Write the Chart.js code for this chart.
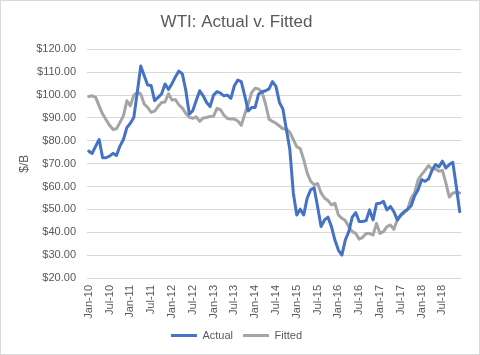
<!DOCTYPE html>
<html><head><meta charset="utf-8">
<script src="https://cdn.jsdelivr.net/npm/chart.js@4"></script>
<style>html,body{margin:0;padding:0;background:#fff;}</style>
</head><body>
<canvas id="c" width="480" height="355"></canvas>
<script>
const monthNames = ['Jan','Feb','Mar','Apr','May','Jun','Jul','Aug','Sep','Oct','Nov','Dec'];
const years = ['10','11','12','13','14','15','16','17','18'];
const categories = [];
years.forEach(y => monthNames.forEach(m => categories.push(m + '-' + y)));

const actual = [
  75.5,74.5,77.7,80.6,72.6,72.6,73.3,74.5,73.6,77.7,80.6,85.8,
  87.7,90.2,101.2,112.7,108.5,104.4,104.2,97.6,99.0,100.5,104.9,102.5,
  105.0,108.0,110.5,109.3,102.0,91.7,93.2,97.6,101.9,99.7,96.8,95.0,
  100.0,101.5,100.9,99.7,100.0,98.6,104.1,106.6,105.9,99.7,93.1,94.6,
  94.6,100.5,101.5,101.9,102.7,105.9,103.8,96.8,93.9,85.0,76.2,57.2,
  47.6,50.1,47.6,54.9,58.6,59.4,51.3,42.5,45.4,46.6,42.5,36.6,
  32.2,30.0,36.6,40.3,46.6,48.6,44.7,44.7,45.1,49.8,45.4,52.5,
  52.7,53.5,49.8,51.3,49.0,45.4,47.6,49.0,50.1,51.6,56.0,58.6,
  63.0,62.3,63.3,67.1,69.6,68.6,71.1,68.1,69.6,70.6,60.1,49.0
];
const fitted = [
  99.4,99.7,99.0,95.3,91.7,89.2,86.8,85.0,85.3,88.0,90.9,97.5,
  95.3,100.0,101.2,100.5,96.1,94.6,92.5,93.0,95.0,96.8,97.0,100.6,
  97.8,98.1,95.7,94.3,92.0,90.3,89.8,90.5,88.5,90.0,90.2,90.7,
  90.8,94.2,93.6,91.2,89.8,89.5,89.5,88.7,86.8,91.7,96.1,101.2,
  103.0,102.7,101.2,96.1,89.5,88.5,87.7,86.5,85.3,85.3,83.7,80.6,
  77.4,76.6,71.8,66.0,62.3,60.8,61.3,57.2,55.0,53.9,52.0,52.7,
  47.6,46.1,45.1,42.5,40.3,39.5,37.0,37.8,39.5,39.5,38.8,43.9,
  39.5,40.3,42.5,43.2,41.3,45.4,47.2,48.6,50.1,55.0,57.2,63.0,
  65.2,67.1,69.2,67.7,67.7,66.7,67.1,61.6,55.4,57.2,57.4,57.2
];
const seriesNames = ['Actual','Fitted'];
const yMin = 20, yMax = 120, yStep = 10;

const borderPlugin = {
  id: 'frame',
  afterDraw(chart) {
    const ctx = chart.ctx;
    ctx.save();
    ctx.strokeStyle = '#d9d9d9';
    ctx.lineWidth = 1;
    ctx.strokeRect(0.5, 0.5, chart.width - 1, chart.height - 1);
    ctx.restore();
  }
};

const font = "'Liberation Sans', Arial, sans-serif";
const textColor = '#595959';

new Chart(document.getElementById('c'), {
  type: 'line',
  data: {
    labels: categories,
    datasets: [
      { label: seriesNames[0], data: actual, borderColor: '#4472C4', backgroundColor: '#4472C4',
        borderWidth: 3, pointRadius: 0, tension: 0, borderCapStyle: 'round', borderJoinStyle: 'round' },
      { label: seriesNames[1], data: fitted, borderColor: '#A5A5A5', backgroundColor: '#A5A5A5',
        borderWidth: 3, pointRadius: 0, tension: 0, borderCapStyle: 'round', borderJoinStyle: 'round' }
    ]
  },
  options: {
    responsive: false,
    animation: false,
    devicePixelRatio: 1,
    layout: { padding: { left: 8, right: 15, top: 0, bottom: 4 } },
    plugins: {
      title: {
        display: true, text: 'WTI: Actual v. Fitted', color: textColor,
        font: { family: font, size: 17, weight: 'normal' },
        padding: { top: 12, bottom: 17 }
      },
      legend: {
        position: 'bottom',
        labels: {
          color: textColor, font: { family: font, size: 11 },
          boxWidth: 26, boxHeight: 3, padding: 10,
          generateLabels(chart) {
            const items = Chart.defaults.plugins.legend.labels.generateLabels(chart);
            items.forEach(it => { it.lineWidth = 0; it.fillStyle = it.strokeStyle; });
            return items;
          }
        }
      },
      tooltip: { enabled: false }
    },
    scales: {
      x: {
        offset: true,
        grid: { display: false, drawTicks: false },
        border: { display: false },
        ticks: {
          autoSkip: false, maxRotation: 90, minRotation: 90, padding: 7,
          color: textColor, font: { family: font, size: 11 },
          callback(v, i) { return i % 6 === 0 ? categories[i] : ''; }
        },
        afterFit(scale) { scale.height = 42; }
      },
      y: {
        min: yMin, max: yMax,
        grid: { color: '#d9d9d9', lineWidth: 1, drawTicks: false },
        border: { display: false },
        ticks: {
          stepSize: yStep, padding: 11, color: textColor, font: { family: font, size: 11 },
          callback(v) { return '$' + Number(v).toFixed(2); }
        },
        title: {
          display: true, text: '$/B', color: textColor,
          font: { family: font, size: 12 }, padding: { top: 9, bottom: 0 }
        },
        afterFit(scale) { scale.width = 79; }
      }
    }
  },
  plugins: [borderPlugin]
});
</script>
</body></html>
